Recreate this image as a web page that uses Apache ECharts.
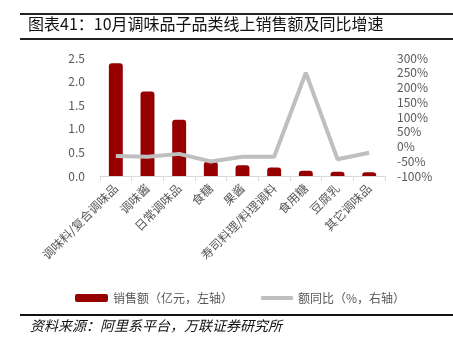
<!DOCTYPE html>
<html>
<head>
<meta charset="utf-8">
<script src="https://cdn.jsdelivr.net/npm/echarts@6/dist/echarts.min.js"></script>
<style>
  html, body { margin: 0; padding: 0; background: #fff; }
  #main { width: 453px; height: 354px; }
</style>
</head>
<body>
<div id="main"></div>
<script>
const categories = ['调味料/复合调味品', '调味酱', '日常调味品', '食糖', '果酱', '寿司料理/料理调料', '食用糖', '豆腐乳', '其它调味品'];
const sales = [2.39, 1.79, 1.19, 0.30, 0.23, 0.18, 0.11, 0.09, 0.08];
const yoy = [-32, -35, -25, -51, -35, -35, 250, -43, -21];

const font = '"Noto Sans CJK SC", sans-serif';
const gray = '#595959';

var myChart = echarts.init(document.getElementById('main'));
myChart.setOption({
    animation: false,
    textStyle: { fontFamily: font },
    graphic: [
        { type: 'rect', shape: { x: 20, y: 13, width: 433, height: 2 }, style: { fill: '#222' } },
        { type: 'text', left: 28, top: 16, style: { text: '图表41：10月调味品子品类线上销售额及同比增速', font: '16px ' + font, fill: '#111' } },
        { type: 'rect', shape: { x: 20, y: 38, width: 433, height: 2 }, style: { fill: '#222' } },
        { type: 'rect', shape: { x: 20, y: 314, width: 433, height: 2 }, style: { fill: '#111' } },
        { type: 'text', left: 30, top: 319, style: { text: '资料来源：阿里系平台，万联证券研究所', font: 'italic 14px ' + font, fill: '#111' } }
    ],
    legend: [
        {
            left: 70,
            top: 287,
            textStyle: { color: gray, fontSize: 12, fontFamily: font },
            data: [{ name: '销售额（亿元，左轴）', icon: 'roundRect', itemStyle: { color: '#960000' } }],
            itemWidth: 33,
            itemHeight: 8
        },
        {
            left: 256,
            top: 287,
            textStyle: { color: gray, fontSize: 12, fontFamily: font },
            data: [{ name: '额同比（%，右轴）', icon: 'roundRect', itemStyle: { color: '#bfbfbf' } }],
            itemWidth: 32,
            itemHeight: 4
        }
    ],
    grid: { left: 100, right: 68, top: 58, bottom: 178 },
    xAxis: {
        type: 'category',
        data: categories,
        axisLine: { lineStyle: { color: '#d9d9d9' } },
        axisTick: { show: true, lineStyle: { color: '#d9d9d9' } },
        axisLabel: { rotate: 45, color: gray, fontSize: 12, interval: 0, margin: 10 }
    },
    yAxis: [
        {
            type: 'value', min: 0, max: 2.5, interval: 0.5,
            splitLine: { show: false },
            axisLabel: { color: gray, fontSize: 12, margin: 15, formatter: v => v.toFixed(1) }
        },
        {
            type: 'value', min: -100, max: 300, interval: 50,
            splitLine: { show: false },
            axisLabel: { color: gray, fontSize: 12, margin: 12, formatter: '{value}%' }
        }
    ],
    series: [
        {
            name: '销售额（亿元，左轴）',
            type: 'bar',
            data: sales,
            barWidth: '44%',
            itemStyle: { color: '#960000', borderRadius: [3, 3, 0, 0] }
        },
        {
            name: '额同比（%，右轴）',
            type: 'line',
            yAxisIndex: 1,
            data: yoy,
            symbol: 'none',
            lineStyle: { color: '#bfbfbf', width: 4 },
            itemStyle: { color: '#bfbfbf' }
        }
    ]
});
</script>
</body>
</html>
